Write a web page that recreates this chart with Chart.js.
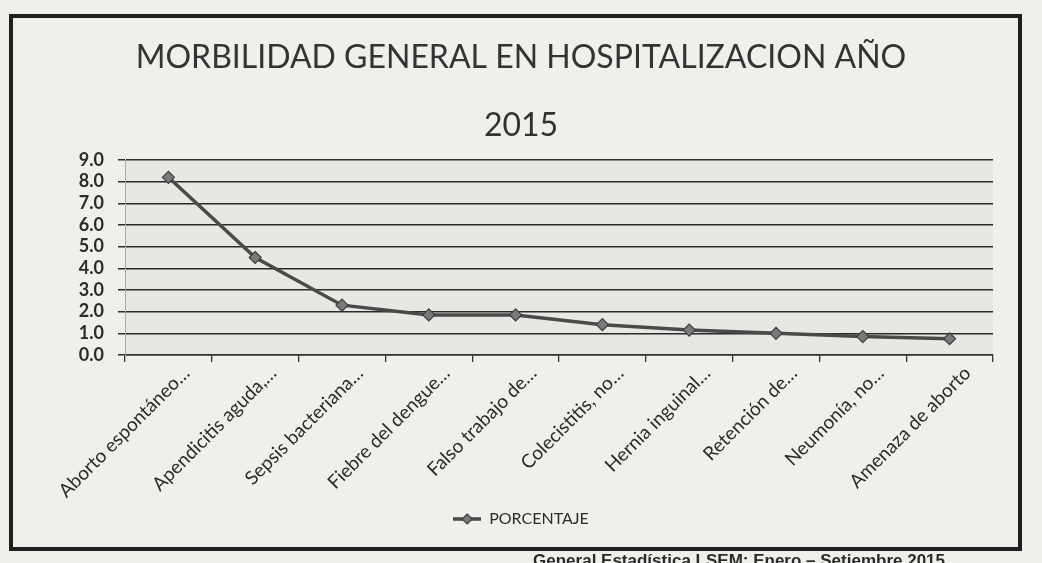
<!DOCTYPE html>
<html lang="es">
<head>
<meta charset="utf-8">
<script src="https://cdn.jsdelivr.net/npm/chart.js@4/dist/chart.umd.min.js"></script>
<style>
  html, body { margin: 0; padding: 0; width: 1042px; height: 563px; overflow: hidden; background: #efefec; }
  #wrap { position: absolute; left: 0; top: 0; width: 1042px; height: 563px; }
  #frame { position: absolute; left: 9px; top: 14px; width: 1005px; height: 529px; border: 4px solid #1f1f1f; pointer-events: none; }
  #source { position: absolute; left: 330px; top: 551px; width: 615px; text-align: right; font: bold 17px "Liberation Sans", Arial, sans-serif; color: #2a2a2a; white-space: nowrap; }
</style>
</head>
<body>
<div id="wrap"><canvas id="chart" width="1042" height="563"></canvas></div>
<div id="frame"></div>
<div id="source">General Estadística LSEM: Enero – Setiembre 2015</div>
<script>
const categories = [
  "Aborto espontáneo…", "Apendicitis aguda,…", "Sepsis bacteriana…", "Fiebre del dengue…",
  "Falso trabajo de…", "Colecistitis, no…", "Hernia inguinal…", "Retención de…",
  "Neumonía, no…", "Amenaza de aborto"
];
const porcentaje = [8.2, 4.5, 2.3, 1.85, 1.85, 1.4, 1.15, 1.0, 0.85, 0.75];
const titleLines = ["MORBILIDAD GENERAL EN HOSPITALIZACION AÑO", "2015"];
const seriesName = "PORCENTAJE";

const ink = "#2b2b2b";
const lineColor = "#4a4a4a";

// legend icon: line with diamond marker, like the Excel legend
const legendIcon = document.createElement("canvas");
legendIcon.width = 28;
legendIcon.height = 12;
(() => {
  const c = legendIcon.getContext("2d");
  c.strokeStyle = lineColor;
  c.lineWidth = 3.5;
  c.beginPath(); c.moveTo(0, 6); c.lineTo(28, 6); c.stroke();
  c.fillStyle = "#7a7a7a";
  c.strokeStyle = "#3c3c3c";
  c.lineWidth = 1.2;
  c.beginPath(); c.moveTo(14, 1); c.lineTo(19, 6); c.lineTo(14, 11); c.lineTo(9, 6); c.closePath();
  c.fill(); c.stroke();
})();

// grey plot area like the scan
const plotBg = {
  id: "plotBg",
  beforeDraw(chart) {
    const { ctx, chartArea: a } = chart;
    ctx.save();
    ctx.fillStyle = "#e7e7e3";
    ctx.fillRect(a.left, a.top, a.right - a.left, a.bottom - a.top);
    ctx.restore();
  }
};

new Chart(document.getElementById("chart"), {
  type: "line",
  data: {
    labels: categories,
    datasets: [{
      label: seriesName,
      data: porcentaje,
      borderColor: lineColor,
      borderWidth: 3.5,
      pointStyle: "rectRot",
      pointRadius: 6,
      pointBackgroundColor: "#7a7a7a",
      pointBorderColor: "#3c3c3c",
      pointBorderWidth: 1.2,
      tension: 0
    }]
  },
  options: {
    responsive: false,
    animation: false,
    layout: { padding: { top: 6, right: 49, bottom: 26, left: 49 } },
    plugins: {
      title: {
        display: true,
        text: titleLines,
        color: "#333",
        font: { family: "Lato", size: 32, weight: "normal", lineHeight: "68px" },
        padding: { top: 18, bottom: 0 }
      },
      legend: {
        position: "bottom",
        labels: {
          color: ink,
          font: { family: "Lato", size: 16 },
          usePointStyle: true,
          pointStyleWidth: 28,
          padding: 10,
          generateLabels(chart) {
            const items = Chart.defaults.plugins.legend.labels.generateLabels(chart);
            items.forEach(i => { i.pointStyle = legendIcon; });
            return items;
          }
        }
      },
      tooltip: { enabled: false }
    },
    scales: {
      x: {
        offset: true,
        grid: { offset: true, drawOnChartArea: false, drawTicks: true, tickLength: 7, color: "#333", lineWidth: 1.3 },
        border: { color: "#333", width: 1.5 },
        ticks: {
          color: ink,
          font: { family: "Lato", size: 19 },
          minRotation: 45,
          maxRotation: 45,
          autoSkip: false,
          labelOffset: 18,
          padding: 0
        },
        afterFit(scale) { scale.height = 146; }
      },
      y: {
        min: 0,
        max: 9,
        grid: { color: "#2a2a2a", lineWidth: 1.5, tickLength: 7 },
        border: { color: "#aaa", width: 1 },
        ticks: {
          stepSize: 1,
          autoSkip: false,
          color: ink,
          padding: 14,
          font: { family: "Lato", size: 18, weight: "bold" },
          callback: v => v.toFixed(1)
        },
        afterFit(scale) { scale.width = 76; }
      }
    }
  },
  plugins: [plotBg]
});
</script>
</body>
</html>
